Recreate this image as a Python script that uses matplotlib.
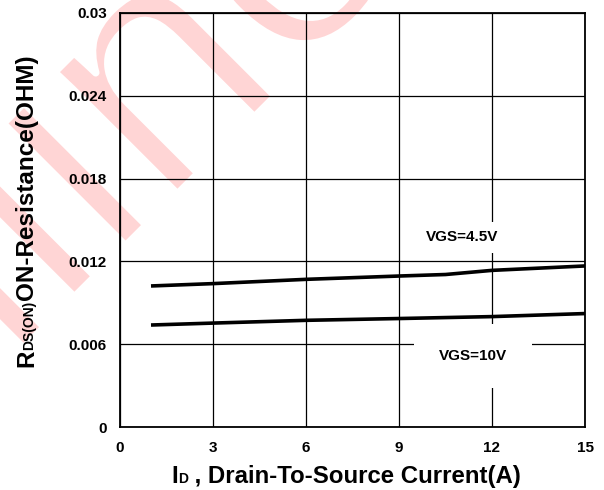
import matplotlib
matplotlib.use("Agg")
import matplotlib.pyplot as plt
import matplotlib.patheffects as pe

# ---- data ----
x_45 = [1, 3, 6, 9, 10.5, 12, 15]
r_45 = [0.01022, 0.01039, 0.0107, 0.01094, 0.01105, 0.01135, 0.01167]
x_10 = [1, 3, 6, 9, 12, 15]
r_10 = [0.00739, 0.00753, 0.00773, 0.00786, 0.00800, 0.00822]
xticks = [0, 3, 6, 9, 12, 15]
yticks = [0, 0.006, 0.012, 0.018, 0.024, 0.03]
ytick_labels = ["0", "0.006", "0.012", "0.018", "0.024", "0.03"]
label_45 = "VGS=4.5V"
label_10 = "VGS=10V"
watermark = "Online"

plt.rcParams['font.family'] = ['Liberation Sans', 'DejaVu Sans']
plt.rcParams['font.weight'] = 'bold'

W, H = 604, 490
fig = plt.figure(figsize=(W / 100, H / 100), dpi=100)
fig.patch.set_facecolor('white')

# watermark (large pale text, mostly outside the canvas)
fig.text(-249 / W, 1 - 620 / H, watermark, fontsize=235, fontweight='normal',
         color='#ffd5d5', rotation=45, rotation_mode='anchor',
         ha='left', va='baseline', zorder=-5,
         path_effects=[pe.Normal(), pe.Stroke(linewidth=5, foreground='white')])

ax = fig.add_axes([120 / W, 1 - 427 / H, (585 - 120) / W, (427 - 13) / H])
ax.set_facecolor('none')
ax.set_xlim(0, 15)
ax.set_ylim(0, 0.03)
ax.set_xticks(xticks)
ax.set_xticklabels([str(v) for v in xticks])
ax.set_yticks(yticks)
ax.set_yticklabels(ytick_labels)
ax.tick_params(length=0, labelsize=11)
ax.tick_params(axis='y', pad=9.4)
ax.tick_params(axis='x', pad=10)
for lab in ax.get_xticklabels() + ax.get_yticklabels():
    lab.set_fontweight('bold')
ax.grid(True, color='black', linewidth=0.9)
ax.set_axisbelow(True)
for sp in ax.spines.values():
    sp.set_linewidth(1.3)
    sp.set_color('black')

ax.plot(x_45, r_45, color='black', linewidth=2.6, solid_capstyle='butt', zorder=3)
ax.plot(x_10, r_10, color='black', linewidth=2.6, solid_capstyle='butt', zorder=3)

ax.text(11.03, 0.01375, label_45, fontsize=11, fontweight='bold', ha='center', va='center',
        bbox=dict(facecolor='white', edgecolor='none', pad=6), zorder=4)
ax.text(11.39, 0.00515, label_10, fontsize=11, fontweight='bold', ha='center', va='center',
        bbox=dict(facecolor='white', edgecolor='none', pad=18), zorder=4)

renderer = fig.canvas.get_renderer()

# x label with baseline-aligned smaller subscript
xparts = [("I", 17.3), ("D", 10), (" , Drain-To-Source Current(A)", 17.3)]
texts = []
total = 0
for s, fs in xparts:
    t = fig.text(0, 0, s, fontsize=fs, fontweight='bold', ha='left', va='baseline')
    w = t.get_window_extent(renderer).width
    texts.append((t, w))
    total += w
xc = 346
xb = 483
cur = xc - total / 2
for t, w in texts:
    t.set_position((cur / W, 1 - xb / H))
    cur += w

# y label rotated
yparts = [("R", 17.5), ("DS(ON)", 10), ("ON-Resistance(OHM)", 17.5)]
texts = []
total = 0
for s, fs in yparts:
    t = fig.text(0, 0, s, fontsize=fs, fontweight='bold', rotation=90,
                 rotation_mode='anchor', ha='left', va='baseline')
    h = t.get_window_extent(renderer).height
    texts.append((t, h))
    total += h
yb_x = 33
ybottom = 367
cur = ybottom
for t, h in texts:
    t.set_position((yb_x / W, 1 - cur / H))
    cur -= h

fig.savefig("out.png", dpi=100)
